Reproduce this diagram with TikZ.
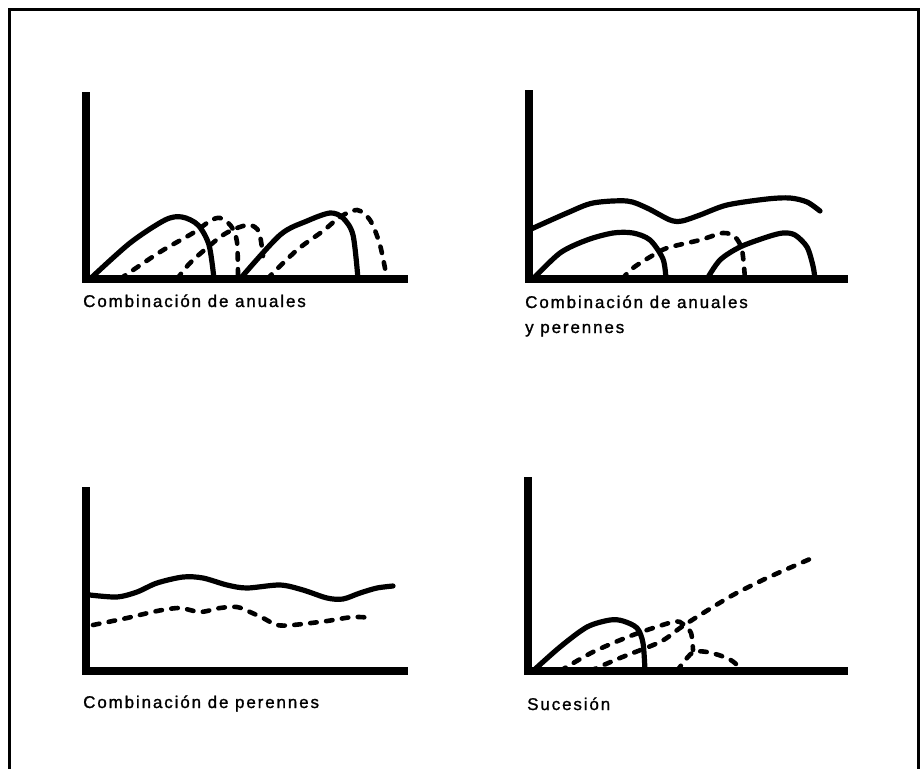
\documentclass[tikz,border=0pt]{standalone}
\usepackage{fontspec}
\setmainfont{Liberation Sans}
\newfontfamily\capfont[LetterSpace=11,FakeBold=1.2]{Liberation Sans}
\usetikzlibrary{calc,positioning}
\definecolor{InkBlack}{HTML}{000000}

\tikzset{
  axisline/.style={line width=7.8pt, InkBlack},
  solidcurve/.style={line width=5.2pt, line cap=round, InkBlack},
  dashcurve/.style={line width=4.6pt, line cap=round, dash pattern=on 6.5pt off 9.5pt, InkBlack},
  caption/.style={anchor=base west, inner sep=0pt, align=left,
    font=\capfont\fontsize{17}{25}\selectfont}
}

\begin{document}
\begin{tikzpicture}[x=1pt,y=-1pt]
  \useasboundingbox (0,0) rectangle (922,769);
  \fill[white] (0,0) rectangle (922,769);
  % outer frame (cut at the bottom)
  \draw[line width=3pt] (9,769) |- (918,9) -- (918,769);

  % panel 1: combination of annuals
  \coordinate (o1) at (86,279);
  \draw[solidcurve] plot[smooth] coordinates {(90,279) (130,243) (165,220) (182,217) (198,225) (209,245) (214,279)};
  \draw[dashcurve] plot[smooth] coordinates {(120,279) (160,252) (193,233) (210,221) (220,218) (231,226) (237,242) (238,279)};
  \draw[dashcurve] plot[smooth] coordinates {(177,279) (190,263) (208,247) (223,235) (237,228) (250,225) (259,232) (263,256)};
  \draw[solidcurve] plot[smooth] coordinates {(240,279) (280,235) (307,221) (330,213) (343,218) (353,235) (358,279)};
  \draw[dashcurve] plot[smooth] coordinates {(267,279) (297,250) (323,231) (340,217) (357,210) (370,220) (380,245) (387,279)};
  \draw[axisline] (o1 |- 0,92) -- (o1) -- (408,279);
  \node[caption] (cap1) at (83,307) {Combinación de anuales};

  % panel 2: annuals and perennials
  \coordinate (o2) at (529,279);
  \draw[solidcurve] plot[smooth] coordinates {(529,230) (567,213) (593,203) (627,201) (647,208) (670,220) (682,221) (700,215) (727,205) (767,199) (790,198) (807,202) (820,211)};
  \draw[solidcurve] plot[smooth] coordinates {(533,279) (560,253) (587,240) (613,233) (633,233) (650,240) (663,259) (666,279)};
  \draw[dashcurve] plot[smooth] coordinates {(622,279) (633,268) (650,257) (667,248) (700,240) (723,233) (735,237) (742,250) (745,279)};
  \draw[solidcurve] plot[smooth] coordinates {(707,279) (720,260) (740,247) (767,237) (783,233) (795,235) (807,247) (813,266) (815,279)};
  \draw[axisline] (o2 |- 0,90) -- (o2) -- (848,279);
  \node[caption] (cap2) at (525,333) {Combinación de anuales\\y perennes};

  % panel 3: combination of perennials
  \coordinate (o3) at (86,671);
  \draw[solidcurve] plot[smooth] coordinates {(90,595) (117,597) (137,592) (157,583) (183,577) (203,578) (227,585) (247,588) (280,585) (303,590) (327,598) (343,599) (360,593) (377,588) (393,586)};
  \draw[dashcurve] plot[smooth] coordinates {(93,625) (127,618) (157,611) (180,608) (200,612) (220,608) (237,607) (250,612) (263,618) (277,625) (293,625) (327,621) (353,617) (373,618)};
  \draw[axisline] (o3 |- 0,487) -- (o3) -- (408,671);
  \node[caption] (cap3) at (83,708) {Combinación de perennes};

  % panel 4: succession
  \coordinate (o4) at (528,671);
  \draw[solidcurve] plot[smooth] coordinates {(533,671) (560,647) (587,627) (610,620) (623,621) (637,628) (643,643) (645,671)};
  \draw[dashcurve] plot[smooth] coordinates {(560,671) (593,652) (633,635) (673,622) (683,624) (691,633) (693,650)};
  \draw[dashcurve] plot[smooth] coordinates {(677,671) (692,653) (707,652) (727,658) (737,665) (738,671)};
  \draw[dashcurve] plot[smooth] coordinates {(590,671) (620,658) (660,642) (680,628) (700,615) (733,595) (767,578) (810,559)};
  \draw[axisline] (o4 |- 0,477) -- (o4) -- (848,671);
  \node[caption] (cap4) at (527,710) {Sucesión};
\end{tikzpicture}
\end{document}
